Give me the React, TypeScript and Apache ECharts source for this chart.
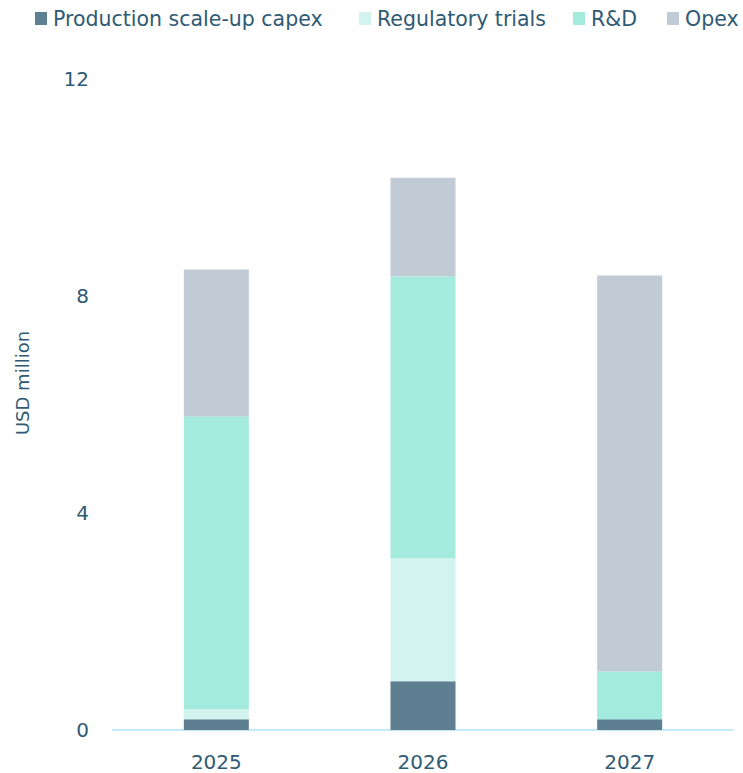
import React, { useEffect, useRef } from "react";
import * as echarts from "echarts";

// Spending breakdown by year, USD million
const years = ["2025", "2026", "2027"];
const capex = [0.2, 0.9, 0.2];
const regulatoryTrials = [0.18, 2.27, 0];
const rnd = [5.4, 5.19, 0.88];
const opex = [2.71, 1.82, 7.3];
const yTicks = { min: 0, max: 12, interval: 4 };

const seriesNames = ["Production scale-up capex", "Regulatory trials", "R&D", "Opex"];
const colors = ["#5E7F92", "#D3F4EE", "#A3EBDD", "#C1CBD5"];
const textColor = "#2F5A74";
const fontFamily = "'DejaVu Sans', 'Noto Sans', sans-serif";

export default function App() {
  const ref = useRef<HTMLDivElement>(null);

  useEffect(() => {
    if (!ref.current) return;
    const chart = echarts.init(ref.current, null, { renderer: "svg" });

    const values = [capex, regulatoryTrials, rnd, opex];
    const legendLefts = [35, 359, 573, 667];

    chart.setOption({
      animation: false,
      backgroundColor: "#ffffff",
      color: colors,
      textStyle: { fontFamily, color: textColor },
      legend: seriesNames.map((name, i) => ({
        data: [name],
        left: legendLefts[i],
        top: 8,
        padding: 0,
        itemWidth: 12,
        itemHeight: 13,
        icon: "rect",
        selectedMode: false,
        textStyle: { fontSize: 20.5, color: textColor, fontFamily, padding: [0, 0, 0, 1] },
      })),
      grid: { left: 113, right: 10, top: 79, bottom: 43, containLabel: false },
      xAxis: {
        type: "category",
        data: years,
        axisLine: { show: true, lineStyle: { color: "#C4EAF8", width: 2 } },
        axisTick: { show: false },
        axisLabel: { fontSize: 20, color: textColor, margin: 22, fontFamily },
      },
      yAxis: {
        type: "value",
        min: yTicks.min,
        max: yTicks.max,
        interval: yTicks.interval,
        axisLine: { show: false },
        axisTick: { show: false },
        splitLine: { show: false },
        axisLabel: { fontSize: 20, color: textColor, margin: 24, fontFamily },
      },
      graphic: [
        {
          type: "text",
          x: 22,
          y: 383,
          rotation: Math.PI / 2,
          style: {
            text: "USD million",
            fontSize: 18,
            fontFamily,
            fill: textColor,
            align: "center",
            verticalAlign: "middle",
          },
        },
      ],
      series: seriesNames.map((name, i) => ({
        name,
        type: "bar",
        stack: "total",
        barWidth: 65,
        data: values[i],
        itemStyle: { color: colors[i] },
      })),
    });

    return () => chart.dispose();
  }, []);

  return (
    <div
      ref={ref}
      style={{ position: "fixed", left: 0, top: 0, width: 743, height: 773, background: "#fff" }}
    />
  );
}
